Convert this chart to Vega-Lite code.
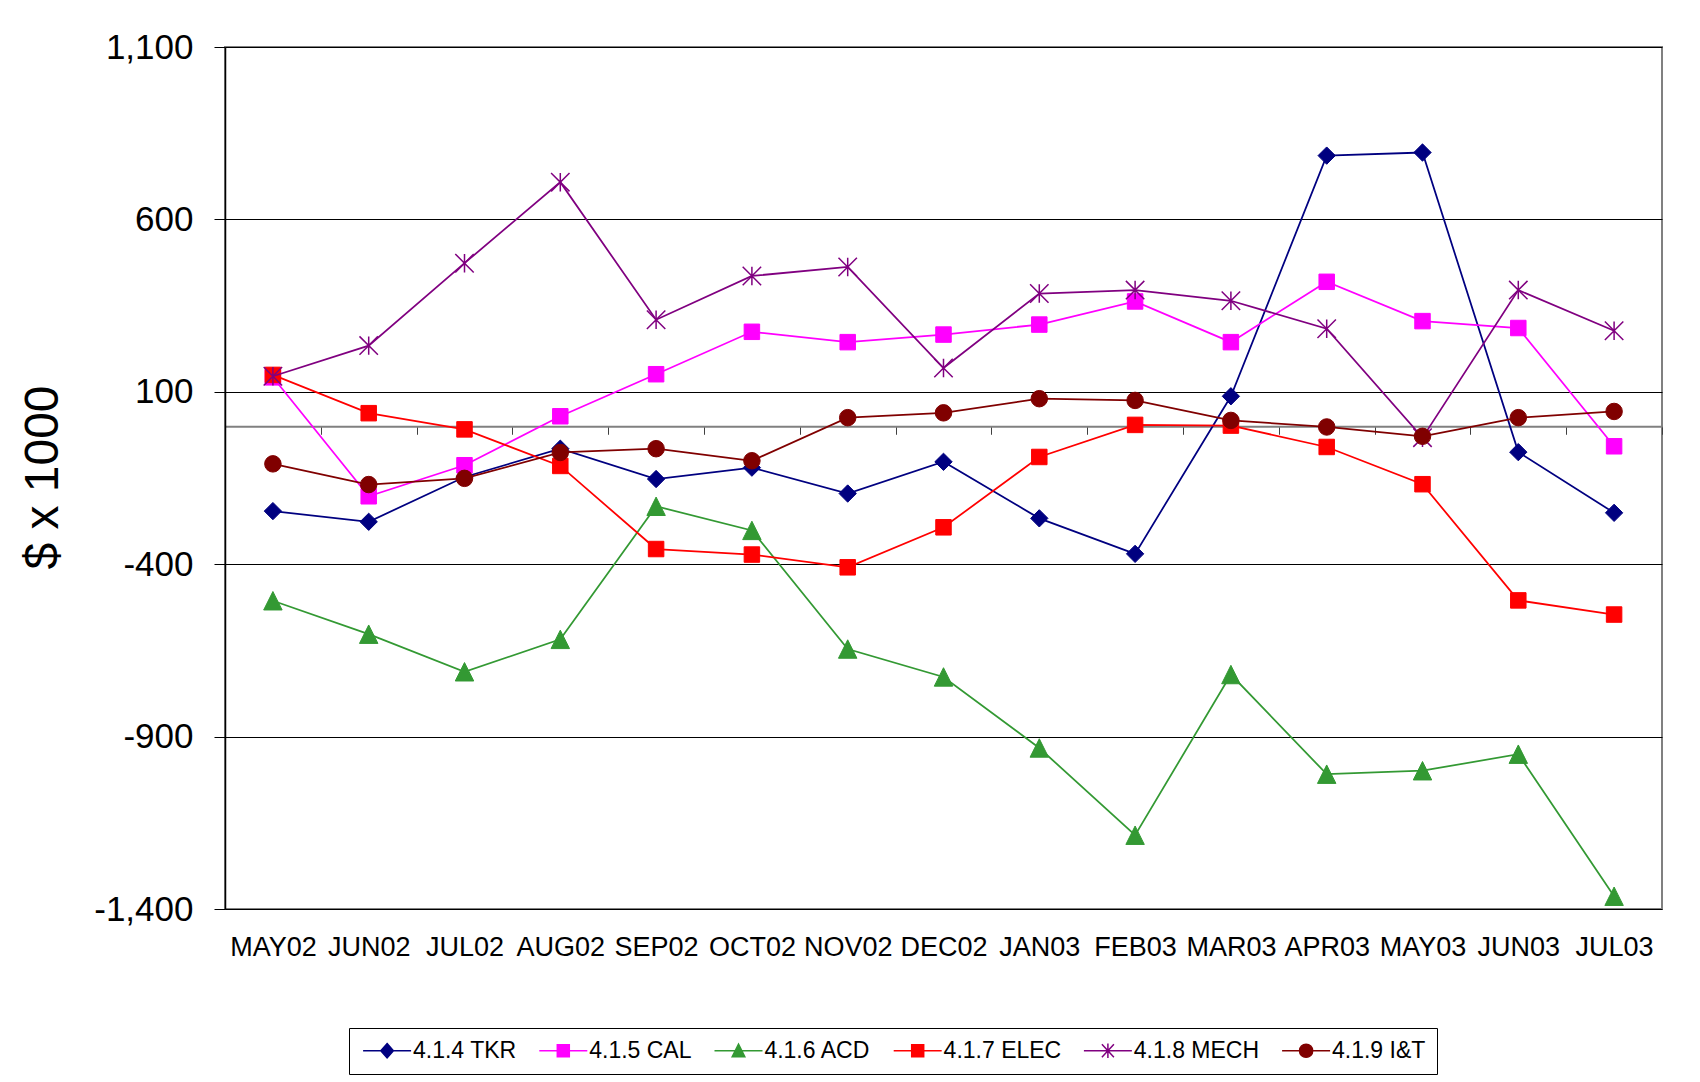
{
  "$schema": "https://vega.github.io/schema/vega-lite/v6.json",
  "width": 1437,
  "height": 862,
  "autosize": {"type": "none"},
  "padding": {"left": 225, "top": 47, "right": 38, "bottom": 173},
  "background": "white",
  "config": {
    "font": "Liberation Sans",
    "view": {"stroke": "#808080", "strokeWidth": 2},
    "legend": {"symbolFillColor": "#000000", "symbolStrokeColor": "#000000", "symbolBaseFillColor": "#000000", "symbolBaseStrokeColor": "#000000"}
  },
  "data": {
    "values": [
      {"series": "4.1.4 TKR", "month": "MAY02", "value": -246},
      {"series": "4.1.4 TKR", "month": "JUN02", "value": -277},
      {"series": "4.1.4 TKR", "month": "JUL02", "value": -147},
      {"series": "4.1.4 TKR", "month": "AUG02", "value": -65},
      {"series": "4.1.4 TKR", "month": "SEP02", "value": -153},
      {"series": "4.1.4 TKR", "month": "OCT02", "value": -120},
      {"series": "4.1.4 TKR", "month": "NOV02", "value": -195},
      {"series": "4.1.4 TKR", "month": "DEC02", "value": -103},
      {"series": "4.1.4 TKR", "month": "JAN03", "value": -267},
      {"series": "4.1.4 TKR", "month": "FEB03", "value": -370},
      {"series": "4.1.4 TKR", "month": "MAR03", "value": 87},
      {"series": "4.1.4 TKR", "month": "APR03", "value": 785},
      {"series": "4.1.4 TKR", "month": "MAY03", "value": 794},
      {"series": "4.1.4 TKR", "month": "JUN03", "value": -75},
      {"series": "4.1.4 TKR", "month": "JUL03", "value": -251},
      {"series": "4.1.5 CAL", "month": "MAY02", "value": 142},
      {"series": "4.1.5 CAL", "month": "JUN02", "value": -203},
      {"series": "4.1.5 CAL", "month": "JUL02", "value": -113},
      {"series": "4.1.5 CAL", "month": "AUG02", "value": 29},
      {"series": "4.1.5 CAL", "month": "SEP02", "value": 151},
      {"series": "4.1.5 CAL", "month": "OCT02", "value": 274},
      {"series": "4.1.5 CAL", "month": "NOV02", "value": 244},
      {"series": "4.1.5 CAL", "month": "DEC02", "value": 266},
      {"series": "4.1.5 CAL", "month": "JAN03", "value": 295},
      {"series": "4.1.5 CAL", "month": "FEB03", "value": 362},
      {"series": "4.1.5 CAL", "month": "MAR03", "value": 244},
      {"series": "4.1.5 CAL", "month": "APR03", "value": 419},
      {"series": "4.1.5 CAL", "month": "MAY03", "value": 305},
      {"series": "4.1.5 CAL", "month": "JUN03", "value": 285},
      {"series": "4.1.5 CAL", "month": "JUL03", "value": -58},
      {"series": "4.1.6 ACD", "month": "MAY02", "value": -506},
      {"series": "4.1.6 ACD", "month": "JUN02", "value": -603},
      {"series": "4.1.6 ACD", "month": "JUL02", "value": -712},
      {"series": "4.1.6 ACD", "month": "AUG02", "value": -618},
      {"series": "4.1.6 ACD", "month": "SEP02", "value": -232},
      {"series": "4.1.6 ACD", "month": "OCT02", "value": -302},
      {"series": "4.1.6 ACD", "month": "NOV02", "value": -646},
      {"series": "4.1.6 ACD", "month": "DEC02", "value": -727},
      {"series": "4.1.6 ACD", "month": "JAN03", "value": -933},
      {"series": "4.1.6 ACD", "month": "FEB03", "value": -1186},
      {"series": "4.1.6 ACD", "month": "MAR03", "value": -720},
      {"series": "4.1.6 ACD", "month": "APR03", "value": -1009},
      {"series": "4.1.6 ACD", "month": "MAY03", "value": -999},
      {"series": "4.1.6 ACD", "month": "JUN03", "value": -951},
      {"series": "4.1.6 ACD", "month": "JUL03", "value": -1363},
      {"series": "4.1.7 ELEC", "month": "MAY02", "value": 149},
      {"series": "4.1.7 ELEC", "month": "JUN02", "value": 38},
      {"series": "4.1.7 ELEC", "month": "JUL02", "value": -9},
      {"series": "4.1.7 ELEC", "month": "AUG02", "value": -115},
      {"series": "4.1.7 ELEC", "month": "SEP02", "value": -356},
      {"series": "4.1.7 ELEC", "month": "OCT02", "value": -372},
      {"series": "4.1.7 ELEC", "month": "NOV02", "value": -409},
      {"series": "4.1.7 ELEC", "month": "DEC02", "value": -293},
      {"series": "4.1.7 ELEC", "month": "JAN03", "value": -89},
      {"series": "4.1.7 ELEC", "month": "FEB03", "value": 4},
      {"series": "4.1.7 ELEC", "month": "MAR03", "value": 2},
      {"series": "4.1.7 ELEC", "month": "APR03", "value": -60},
      {"series": "4.1.7 ELEC", "month": "MAY03", "value": -168},
      {"series": "4.1.7 ELEC", "month": "JUN03", "value": -505},
      {"series": "4.1.7 ELEC", "month": "JUL03", "value": -546},
      {"series": "4.1.8 MECH", "month": "MAY02", "value": 145},
      {"series": "4.1.8 MECH", "month": "JUN02", "value": 234},
      {"series": "4.1.8 MECH", "month": "JUL02", "value": 473},
      {"series": "4.1.8 MECH", "month": "AUG02", "value": 708},
      {"series": "4.1.8 MECH", "month": "SEP02", "value": 309},
      {"series": "4.1.8 MECH", "month": "OCT02", "value": 436},
      {"series": "4.1.8 MECH", "month": "NOV02", "value": 462},
      {"series": "4.1.8 MECH", "month": "DEC02", "value": 169},
      {"series": "4.1.8 MECH", "month": "JAN03", "value": 385},
      {"series": "4.1.8 MECH", "month": "FEB03", "value": 395},
      {"series": "4.1.8 MECH", "month": "MAR03", "value": 364},
      {"series": "4.1.8 MECH", "month": "APR03", "value": 283},
      {"series": "4.1.8 MECH", "month": "MAY03", "value": -33},
      {"series": "4.1.8 MECH", "month": "JUN03", "value": 395},
      {"series": "4.1.8 MECH", "month": "JUL03", "value": 277},
      {"series": "4.1.9 I&T", "month": "MAY02", "value": -109},
      {"series": "4.1.9 I&T", "month": "JUN02", "value": -169},
      {"series": "4.1.9 I&T", "month": "JUL02", "value": -151},
      {"series": "4.1.9 I&T", "month": "AUG02", "value": -76},
      {"series": "4.1.9 I&T", "month": "SEP02", "value": -65},
      {"series": "4.1.9 I&T", "month": "OCT02", "value": -100},
      {"series": "4.1.9 I&T", "month": "NOV02", "value": 25},
      {"series": "4.1.9 I&T", "month": "DEC02", "value": 39},
      {"series": "4.1.9 I&T", "month": "JAN03", "value": 80},
      {"series": "4.1.9 I&T", "month": "FEB03", "value": 75},
      {"series": "4.1.9 I&T", "month": "MAR03", "value": 17},
      {"series": "4.1.9 I&T", "month": "APR03", "value": -2},
      {"series": "4.1.9 I&T", "month": "MAY03", "value": -29},
      {"series": "4.1.9 I&T", "month": "JUN03", "value": 25},
      {"series": "4.1.9 I&T", "month": "JUL03", "value": 43}
    ]
  },
  "encoding": {
    "y": {
      "field": "value", "type": "quantitative",
      "scale": {"domain": [-1400, 1100], "nice": false, "zero": false},
      "axis": {
        "values": [-1400, -900, -400, 100, 600, 1100],
        "labelExpr": "replace(format(datum.value, ',.0f'), '\u2212', '-')",
        "grid": true, "gridColor": "black", "gridWidth": 1, "gridOpacity": 1,
        "tickSize": 11, "tickColor": "black", "tickWidth": 1,
        "labelPadding": 21, "labelFontSize": 35, "labelColor": "black",
        "domainColor": "black", "domainWidth": 1.5,
        "title": "$ x 1000", "titleFontSize": 48, "titleFontWeight": "normal", "titleColor": "black",
        "titleX": -168, "titleY": 430, "titleAngle": 270, "titleAlign": "center", "titleBaseline": "alphabetic"
      }
    }
  },
  "layer": [
    {
      "mark": {"type": "point", "filled": true, "size": 144, "strokeWidth": 1.5, "opacity": 0},
      "encoding": {
        "x": {"field": "month", "type": "ordinal",
          "scale": {"type": "point", "padding": 0.5, "domain": ["MAY02","JUN02","JUL02","AUG02","SEP02","OCT02","NOV02","DEC02","JAN03","FEB03","MAR03","APR03","MAY03","JUN03","JUL03"]},
          "axis": {"orient": "bottom", "title": null, "domain": false, "ticks": false, "tickSize": 0, "grid": false, "labelPadding": 25, "labelFontSize": 27, "labelColor": "black", "labelAngle": 0, "labelOverlap": false, "labelLimit": 200}},
        "color": {"field": "series", "type": "nominal",
          "scale": {"domain": ["4.1.4 TKR","4.1.5 CAL","4.1.6 ACD","4.1.7 ELEC","4.1.8 MECH","4.1.9 I&T"], "range": ["#000080","#FF00FF","#339933","#FF0000","#800080","#800000"]},
          "legend": {
            "title": null, "orient": "none", "legendX": 124, "legendY": 981, "direction": "horizontal",
            "padding": 11, "strokeColor": "black", "fillColor": "white",
            "labelFont": "Liberation Sans", "labelFontSize": 23, "labelColor": "black", "labelLimit": 400,
            "symbolSize": 144, "symbolStrokeWidth": 1.5, "symbolOpacity": 1,
            "symbolFillColor": "#000000", "symbolStrokeColor": "#000000",
            "symbolOffset": 15.6, "labelOffset": 14.4, "columnPadding": 19.2
          }},
        "stroke": {"field": "series", "type": "nominal",
          "scale": {"domain": ["4.1.4 TKR","4.1.5 CAL","4.1.6 ACD","4.1.7 ELEC","4.1.8 MECH","4.1.9 I&T"], "range": ["#000080","#FF00FF","#339933","#FF0000","#800080","#800000"]},
          "legend": {
            "title": null, "orient": "none", "legendX": 124, "legendY": 981, "direction": "horizontal",
            "padding": 11, "strokeColor": "black", "fillColor": "white",
            "labelFont": "Liberation Sans", "labelFontSize": 23, "labelColor": "black", "labelLimit": 400,
            "symbolSize": 144, "symbolStrokeWidth": 1.5, "symbolOpacity": 1,
            "symbolFillColor": "#000000", "symbolStrokeColor": "#000000",
            "symbolOffset": 15.6, "labelOffset": 14.4, "columnPadding": 19.2
          }},
        "shape": {"field": "series", "type": "nominal",
          "scale": {"domain": ["4.1.4 TKR","4.1.5 CAL","4.1.6 ACD","4.1.7 ELEC","4.1.8 MECH","4.1.9 I&T"],
            "range": [
              "M-4,0L4,0M0,-1.2L1.05,0L0,1.2L-1.05,0Z",
              "M-4,0L4,0M-1,-1L1,-1L1,1L-1,1Z",
              "M-4,0L4,0M0,-1.1L1.05,1L-1.05,1Z",
              "M-4,0L4,0M-1,-1L1,-1L1,1L-1,1Z",
              "M-4,0L4,0M-1,-1.1L1,1.1M1,-1.1L-1,1.1M0,-1.2L0,1.2",
              "M-4,0L4,0M-1.1,0A1.1,1.1,0,1,0,1.1,0A1.1,1.1,0,1,0,-1.1,0Z"
            ]},
          "legend": {
            "title": null, "orient": "none", "legendX": 124, "legendY": 981, "direction": "horizontal",
            "padding": 11, "strokeColor": "black", "fillColor": "white",
            "labelFont": "Liberation Sans", "labelFontSize": 23, "labelColor": "black", "labelLimit": 400,
            "symbolSize": 144, "symbolStrokeWidth": 1.5, "symbolOpacity": 1,
            "symbolFillColor": "#000000", "symbolStrokeColor": "#000000",
            "symbolOffset": 15.6, "labelOffset": 14.4, "columnPadding": 19.2
          }}
      }
    },
    {
      "mark": {"type": "point", "opacity": 1, "size": 0},
      "encoding": {
        "x": {
          "field": "month", "type": "ordinal",
          "scale": {"type": "point", "padding": 0.5, "domain": ["MAY02","JUN02","JUL02","AUG02","SEP02","OCT02","NOV02","DEC02","JAN03","FEB03","MAR03","APR03","MAY03","JUN03","JUL03"]},
          "axis": {"orient": "bottom", "offset": -482.72, "title": null, "labels": false, "grid": false,
            "ticks": true, "tickSize": 8, "tickColor": "#404040", "tickWidth": 1, "tickOffset": 47.9,
            "domain": true, "domainColor": "#808080", "domainWidth": 2}
        }
      }
    },
    {
      "transform": [{"filter": "datum.series === '4.1.4 TKR'"}],
      "mark": {"type": "line", "color": "#000080", "strokeWidth": 1.75,
        "point": {"shape": "diamond", "filled": true, "size": 300, "fill": "#000080", "stroke": "#000080", "strokeWidth": 1, "opacity": 1}},
      "encoding": {"x": {"field": "month", "type": "ordinal", "axis": null}, "order": {"value": null}}
    },
    {
      "transform": [{"filter": "datum.series === '4.1.5 CAL'"}],
      "mark": {"type": "line", "color": "#FF00FF", "strokeWidth": 1.75,
        "point": {"shape": "square", "filled": true, "size": 240, "fill": "#FF00FF", "stroke": "#FF00FF", "strokeWidth": 1, "opacity": 1}},
      "encoding": {"x": {"field": "month", "type": "ordinal", "axis": null}, "order": {"value": null}}
    },
    {
      "transform": [{"filter": "datum.series === '4.1.6 ACD'"}],
      "mark": {"type": "line", "color": "#339933", "strokeWidth": 1.75,
        "point": {"shape": "M0,-1L1,1L-1,1Z", "filled": true, "size": 340, "fill": "#339933", "stroke": "#339933", "strokeWidth": 1, "opacity": 1}},
      "encoding": {"x": {"field": "month", "type": "ordinal", "axis": null}, "order": {"value": null}}
    },
    {
      "transform": [{"filter": "datum.series === '4.1.7 ELEC'"}],
      "mark": {"type": "line", "color": "#FF0000", "strokeWidth": 1.75,
        "point": {"shape": "square", "filled": true, "size": 240, "fill": "#FF0000", "stroke": "#FF0000", "strokeWidth": 1, "opacity": 1}},
      "encoding": {"x": {"field": "month", "type": "ordinal", "axis": null}, "order": {"value": null}}
    },
    {
      "transform": [{"filter": "datum.series === '4.1.8 MECH'"}],
      "mark": {"type": "line", "color": "#800080", "strokeWidth": 1.75,
        "point": {"shape": "M-1,-1L1,1M1,-1L-1,1M0,-1L0,1", "filled": false, "size": 340, "stroke": "#800080", "strokeWidth": 1.5, "opacity": 1}},
      "encoding": {"x": {"field": "month", "type": "ordinal", "axis": null}, "order": {"value": null}}
    },
    {
      "transform": [{"filter": "datum.series === '4.1.9 I&T'"}],
      "mark": {"type": "line", "color": "#800000", "strokeWidth": 1.75,
        "point": {"shape": "circle", "filled": true, "size": 272, "fill": "#800000", "stroke": "#800000", "strokeWidth": 1, "opacity": 1}},
      "encoding": {"x": {"field": "month", "type": "ordinal", "axis": null}, "order": {"value": null}}
    }
  ],
  "resolve": {"axis": {"x": "independent"}}
}
